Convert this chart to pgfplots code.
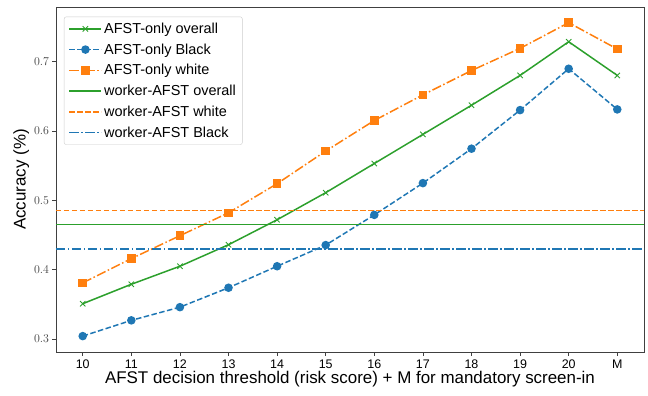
\documentclass[border=0pt]{standalone}
\usepackage{pgfplots}
\pgfplotsset{compat=1.18}
\usepackage{fontspec}
\setmainfont{Liberation Sans}
\definecolor{tblue}{HTML}{1F77B4}
\definecolor{torange}{HTML}{FF7F0E}
\definecolor{tgreen}{HTML}{2CA02C}
\begin{document}
\begin{tikzpicture}
\path[use as bounding box] (-56bp,-44bp) rectangle (592bp,352bp);
\begin{axis}[
  at={(0,0)}, anchor=south west,
  scale only axis, width=588bp, height=345bp,
  xmin=-0.55, xmax=11.55, ymin=0.2814, ymax=0.7786,
  xtick={0,...,11},
  xticklabels={10,11,12,13,14,15,16,17,18,19,20,M},
  xticklabel style={font=\fontsize{12.5}{14}\selectfont, yshift=-1bp},
  ytick={0.3,0.4,0.5,0.6,0.7},
  yticklabel style={font=\fontsize{12}{14}\selectfont, text=black!75},
  y tick label style={/pgf/number format/fixed, /pgf/number format/precision=1},
  tick align=outside, tick pos=left,
  major tick length=3.5bp,
  every tick/.style={black!75, line width=0.7pt},
  axis line style={black!75, line width=0.9pt},
  xlabel={AFST decision threshold (risk score) + M for mandatory screen-in},
  ylabel={Accuracy (\%)},
  label style={font=\fontsize{17}{19}\selectfont},
  xlabel style={yshift=4bp},
  ylabel style={yshift=-2bp},
  legend style={at={(0.0136,0.972)}, anchor=north west, draw=black!20, rounded corners=2pt,
    font=\fontsize{14.5}{17}\selectfont, row sep=4.8bp, inner xsep=4.5bp, inner ysep=4bp,
    /tikz/every even column/.append style={column sep=11bp}},
  legend cell align=left,
  legend image code/.code={\draw[mark repeat=2,mark phase=2,#1] plot coordinates {(0bp,0bp) (16bp,0bp) (32bp,0bp)};},
]
\addplot[tgreen, line width=1.5pt, mark=x, mark size=3.8bp, mark options={solid, line width=0.9pt}] coordinates {
(0,0.351) (1,0.379) (2,0.405) (3,0.436) (4,0.472) (5,0.511) (6,0.553) (7,0.595) (8,0.637) (9,0.680) (10,0.7285) (11,0.680)};
\addlegendentry{AFST-only overall}
\addplot[tblue, line width=1.5pt, dash pattern=on 5.5bp off 2.5bp, mark=*, mark size=3.5bp, mark options={solid}] coordinates {
(0,0.3043) (1,0.327) (2,0.346) (3,0.374) (4,0.405) (5,0.4355) (6,0.479) (7,0.5248) (8,0.5744) (9,0.630) (10,0.6896) (11,0.631)};
\addlegendentry{AFST-only Black}
\addplot[torange, line width=1.5pt, dash pattern=on 9.5bp off 2.5bp on 1.5bp off 2.5bp, mark=square*, mark size=3.5bp, mark options={solid}] coordinates {
(0,0.381) (1,0.416) (2,0.449) (3,0.482) (4,0.524) (5,0.571) (6,0.615) (7,0.652) (8,0.687) (9,0.719) (10,0.756) (11,0.718)};
\addlegendentry{AFST-only white}
\addplot[tgreen, line width=1.5pt] coordinates {(-0.55,0.4653) (11.55,0.4653)};
\addlegendentry{worker-AFST overall}
\addplot[torange, line width=1.5pt, dash pattern=on 5.5bp off 2.5bp] coordinates {(-0.55,0.4855) (11.55,0.4855)};
\addlegendentry{worker-AFST white}
\addplot[tblue, line width=1.5pt, dash pattern=on 9.5bp off 2.5bp on 1.5bp off 2.5bp] coordinates {(-0.55,0.430) (11.55,0.430)};
\addlegendentry{worker-AFST Black}
\end{axis}
\end{tikzpicture}
\end{document}
